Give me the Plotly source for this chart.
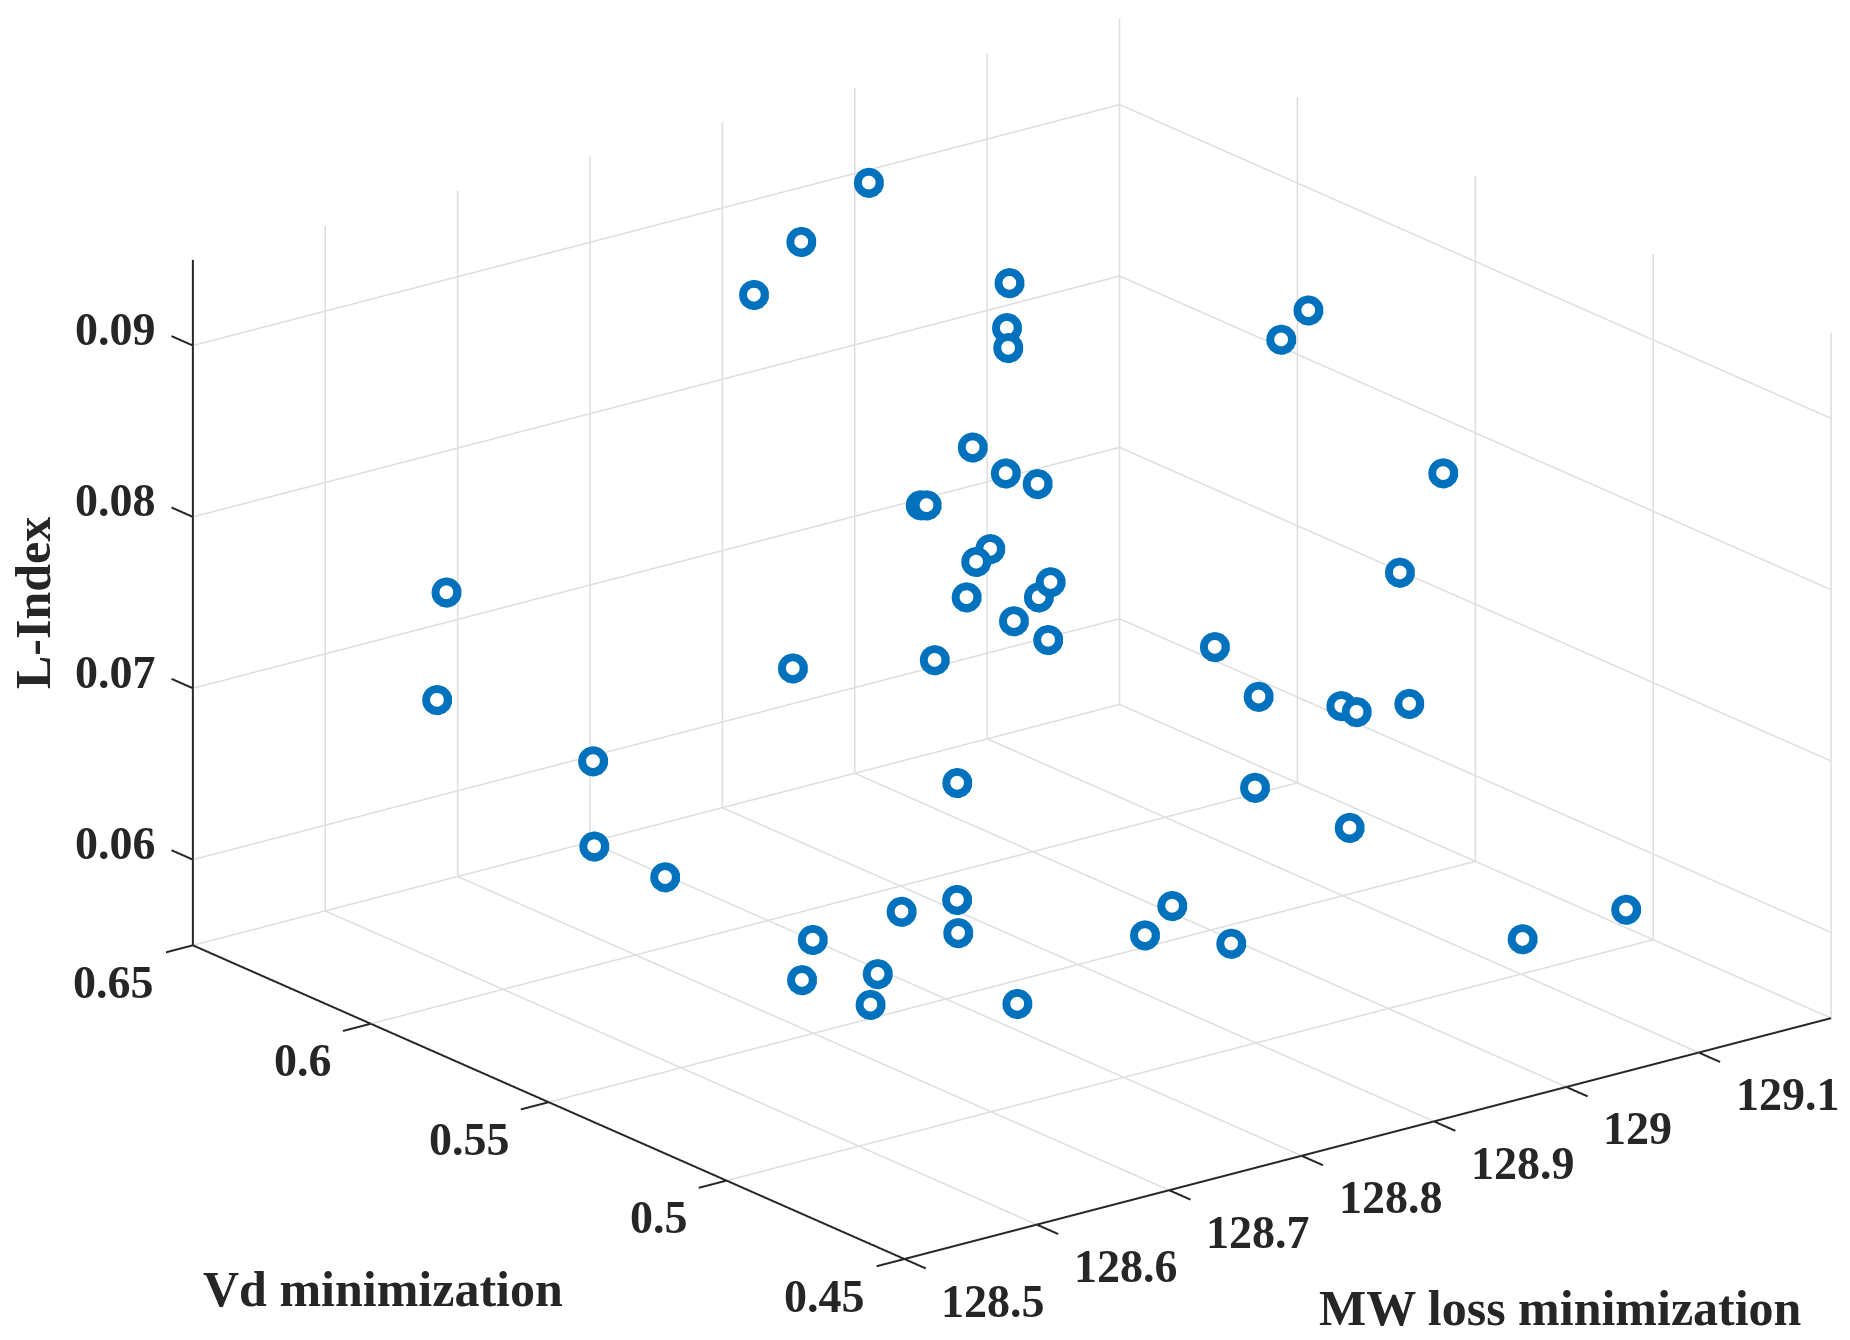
"""
3D Pareto scatter: MW loss / Vd / L-Index.
"""
import plotly.graph_objects as go

mw_loss = [128.9298, 128.8519, 128.7893, 128.9554, 128.9266, 128.9007, 129.0737, 129.0263, 129.1218, 128.847,
           128.8451, 128.8423, 128.8346, 128.8122, 128.8334, 128.7959, 128.8252, 128.8432, 128.8155, 128.7975,
           128.7965, 128.7377, 128.6843, 128.557, 128.5768, 128.5871, 128.588, 128.5878, 129.0353, 128.9224,
           128.9286, 128.9642, 128.9489, 129.0424, 128.7547, 128.899, 128.9436, 128.7008, 128.6748, 128.6589,
           128.6187, 128.614, 128.5837, 128.5817, 128.6657, 128.789, 128.8096, 128.8273, 129.0205, 129.0987]
vd = [0.62, 0.61, 0.60, 0.59, 0.58, 0.57, 0.55, 0.54, 0.53, 0.56,
      0.55, 0.54, 0.57, 0.56, 0.55, 0.54, 0.53, 0.54, 0.55, 0.53,
      0.52, 0.53, 0.55, 0.60, 0.61, 0.57, 0.57, 0.55, 0.51, 0.52,
      0.51, 0.50, 0.49, 0.51, 0.53, 0.50, 0.49, 0.51, 0.50, 0.51,
      0.52, 0.50, 0.51, 0.49, 0.48, 0.49, 0.49, 0.48, 0.47, 0.47]
l_index = [0.09364, 0.09267, 0.09175, 0.09002, 0.08889, 0.08916, 0.08971, 0.08987, 0.08107, 0.08535,
           0.08479, 0.08514, 0.08131, 0.08267, 0.08061, 0.08153, 0.08067, 0.07851, 0.07815, 0.07895,
           0.07879, 0.07788, 0.07664, 0.07905, 0.07146, 0.07134, 0.06635, 0.06639, 0.07884, 0.07585,
           0.07374, 0.0734, 0.07427, 0.07104, 0.07037, 0.06994, 0.06762, 0.06646, 0.06596, 0.06661,
           0.06486, 0.06479, 0.06413, 0.06456, 0.06384, 0.06445, 0.06575, 0.06411, 0.06141, 0.06156]

x_ticks = [128.5, 128.6, 128.7, 128.8, 128.9, 129, 129.1]
x_labels = ["128.5", "128.6", "128.7", "128.8", "128.9", "129", "129.1"]
y_ticks = [0.45, 0.5, 0.55, 0.6, 0.65]
y_labels = ["0.45", "0.5", "0.55", "0.6", "0.65"]
z_ticks = [0.06, 0.07, 0.08, 0.09]
z_labels = ["0.06", "0.07", "0.08", "0.09"]

x_lo, x_hi = 128.5, 129.2
y_lo, y_hi = 0.45, 0.65
z_lo, z_hi = 0.055, 0.095

FONT = "Liberation Serif"
INK = "#262626"
GRID = "#dedede"
BLUE = "#0072bd"
TICK = 0.03
PAD = 0.04  # keep the box inside the clip range of the scene
PAGE_MARGIN = 8  # body margin of the html page
ZOOM = 1.8516


def segments(pairs):
    xs, ys, zs = [], [], []
    for a, b in pairs:
        xs += [a[0], b[0], None]
        ys += [a[1], b[1], None]
        zs += [a[2], b[2], None]
    return xs, ys, zs


def lines(pairs, color, width):
    xs, ys, zs = segments(pairs)
    return go.Scatter3d(x=xs, y=ys, z=zs, mode="lines", hoverinfo="skip",
                        line=dict(color=color, width=width))


def tick_label(text, x, y, z, anchor, dx, dy):
    return dict(text=f"<b>{text}</b>", x=x, y=y, z=z, showarrow=False, xanchor=anchor, yanchor="middle",
                xshift=dx, yshift=-dy, font=dict(family=FONT, size=46, color=INK))


def title(text, px, py, angle=0):
    return dict(text=f"<b>{text}</b>", x=(px - PAGE_MARGIN) / 1850, y=1 - (py - PAGE_MARGIN) / 1340,
                xref="paper", yref="paper", xanchor="center", yanchor="middle", showarrow=False,
                textangle=angle, font=dict(family=FONT, size=50, color=INK))


def padded(lo, hi):
    return [lo - PAD * (hi - lo), hi + PAD * (hi - lo)]


# grid on the two back walls and the floor, leaving out what the black axes cover
grid = []
for x in x_ticks:
    if x != x_lo:
        grid.append(((x, y_hi, z_lo), (x, y_hi, z_hi)))
        grid.append(((x, y_lo, z_lo), (x, y_hi, z_lo)))
for y in y_ticks:
    grid.append(((x_hi, y, z_lo), (x_hi, y, z_hi)))
    if y != y_lo:
        grid.append(((x_lo, y, z_lo), (x_hi, y, z_lo)))
for z in z_ticks:
    grid.append(((x_lo, y_hi, z), (x_hi, y_hi, z)))
    grid.append(((x_hi, y_hi, z), (x_hi, y_lo, z)))
grid.append(((x_hi, y_lo, z_lo), (x_hi, y_hi, z_lo)))

dx_tick = TICK * (x_hi - x_lo)
dy_tick = TICK * (y_hi - y_lo)
axes = [
    ((x_lo, y_lo, z_lo), (x_hi, y_lo, z_lo)),
    ((x_lo, y_lo, z_lo), (x_lo, y_hi, z_lo)),
    ((x_lo, y_hi, z_lo), (x_lo, y_hi, z_hi)),
]
for x in x_ticks:
    axes.append(((x, y_lo, z_lo), (x, y_lo - dy_tick, z_lo)))
for y in y_ticks:
    axes.append(((x_lo, y, z_lo), (x_lo - dx_tick, y, z_lo)))
for z in z_ticks:
    axes.append(((x_lo, y_hi, z), (x_lo, y_hi + dy_tick, z)))

labels = []
for v, t in zip(x_ticks, x_labels):
    labels.append(tick_label(t, v, y_lo, z_lo, "left", 35, 42))
for v, t in zip(y_ticks, y_labels):
    labels.append(tick_label(t, x_lo, v, z_lo, "right", -37, 37))
for v, t in zip(z_ticks, z_labels):
    labels.append(tick_label(t, x_lo, y_hi, v, "right", -35, -16))

hidden = dict(visible=False, autorange=False)
box_scale = ZOOM * (1 + 2 * PAD)

fig = go.Figure()
fig.add_trace(lines(grid, GRID, 3))
fig.add_trace(lines(axes, INK, 4))
fig.add_trace(go.Scatter3d(x=mw_loss, y=vd, z=l_index, mode="markers", hoverinfo="skip",
                           marker=dict(size=17.5, color=BLUE, opacity=1, line=dict(width=0))))
fig.add_trace(go.Scatter3d(x=mw_loss, y=vd, z=l_index, mode="markers", hoverinfo="skip",
                           marker=dict(size=8, color="white", opacity=1, line=dict(width=0))))
fig.update_layout(
    width=1850, height=1340, showlegend=False,
    paper_bgcolor="white",
    margin=dict(l=0, r=0, t=0, b=0),
    scene=dict(
        domain=dict(x=[0.0854, 1], y=[0.0582, 1]),
        xaxis=dict(range=padded(x_lo, x_hi), **hidden),
        yaxis=dict(range=padded(y_lo, y_hi), **hidden),
        zaxis=dict(range=padded(z_lo, z_hi), **hidden),
        aspectmode="manual",
        aspectratio=dict(x=box_scale, y=box_scale, z=box_scale * 0.6235),
        camera=dict(
            projection=dict(type="orthographic"),
            eye=dict(x=-2.292, y=-2.985, z=1.354),
            up=dict(x=0, y=0, z=1),
        ),
        annotations=labels,
    ),
    annotations=[
        title("MW loss minimization", 1560, 1308),
        title("Vd minimization", 383, 1289),
        title("L-Index", 33, 603, -90),
    ],
)
fig.write_html("out.html")
